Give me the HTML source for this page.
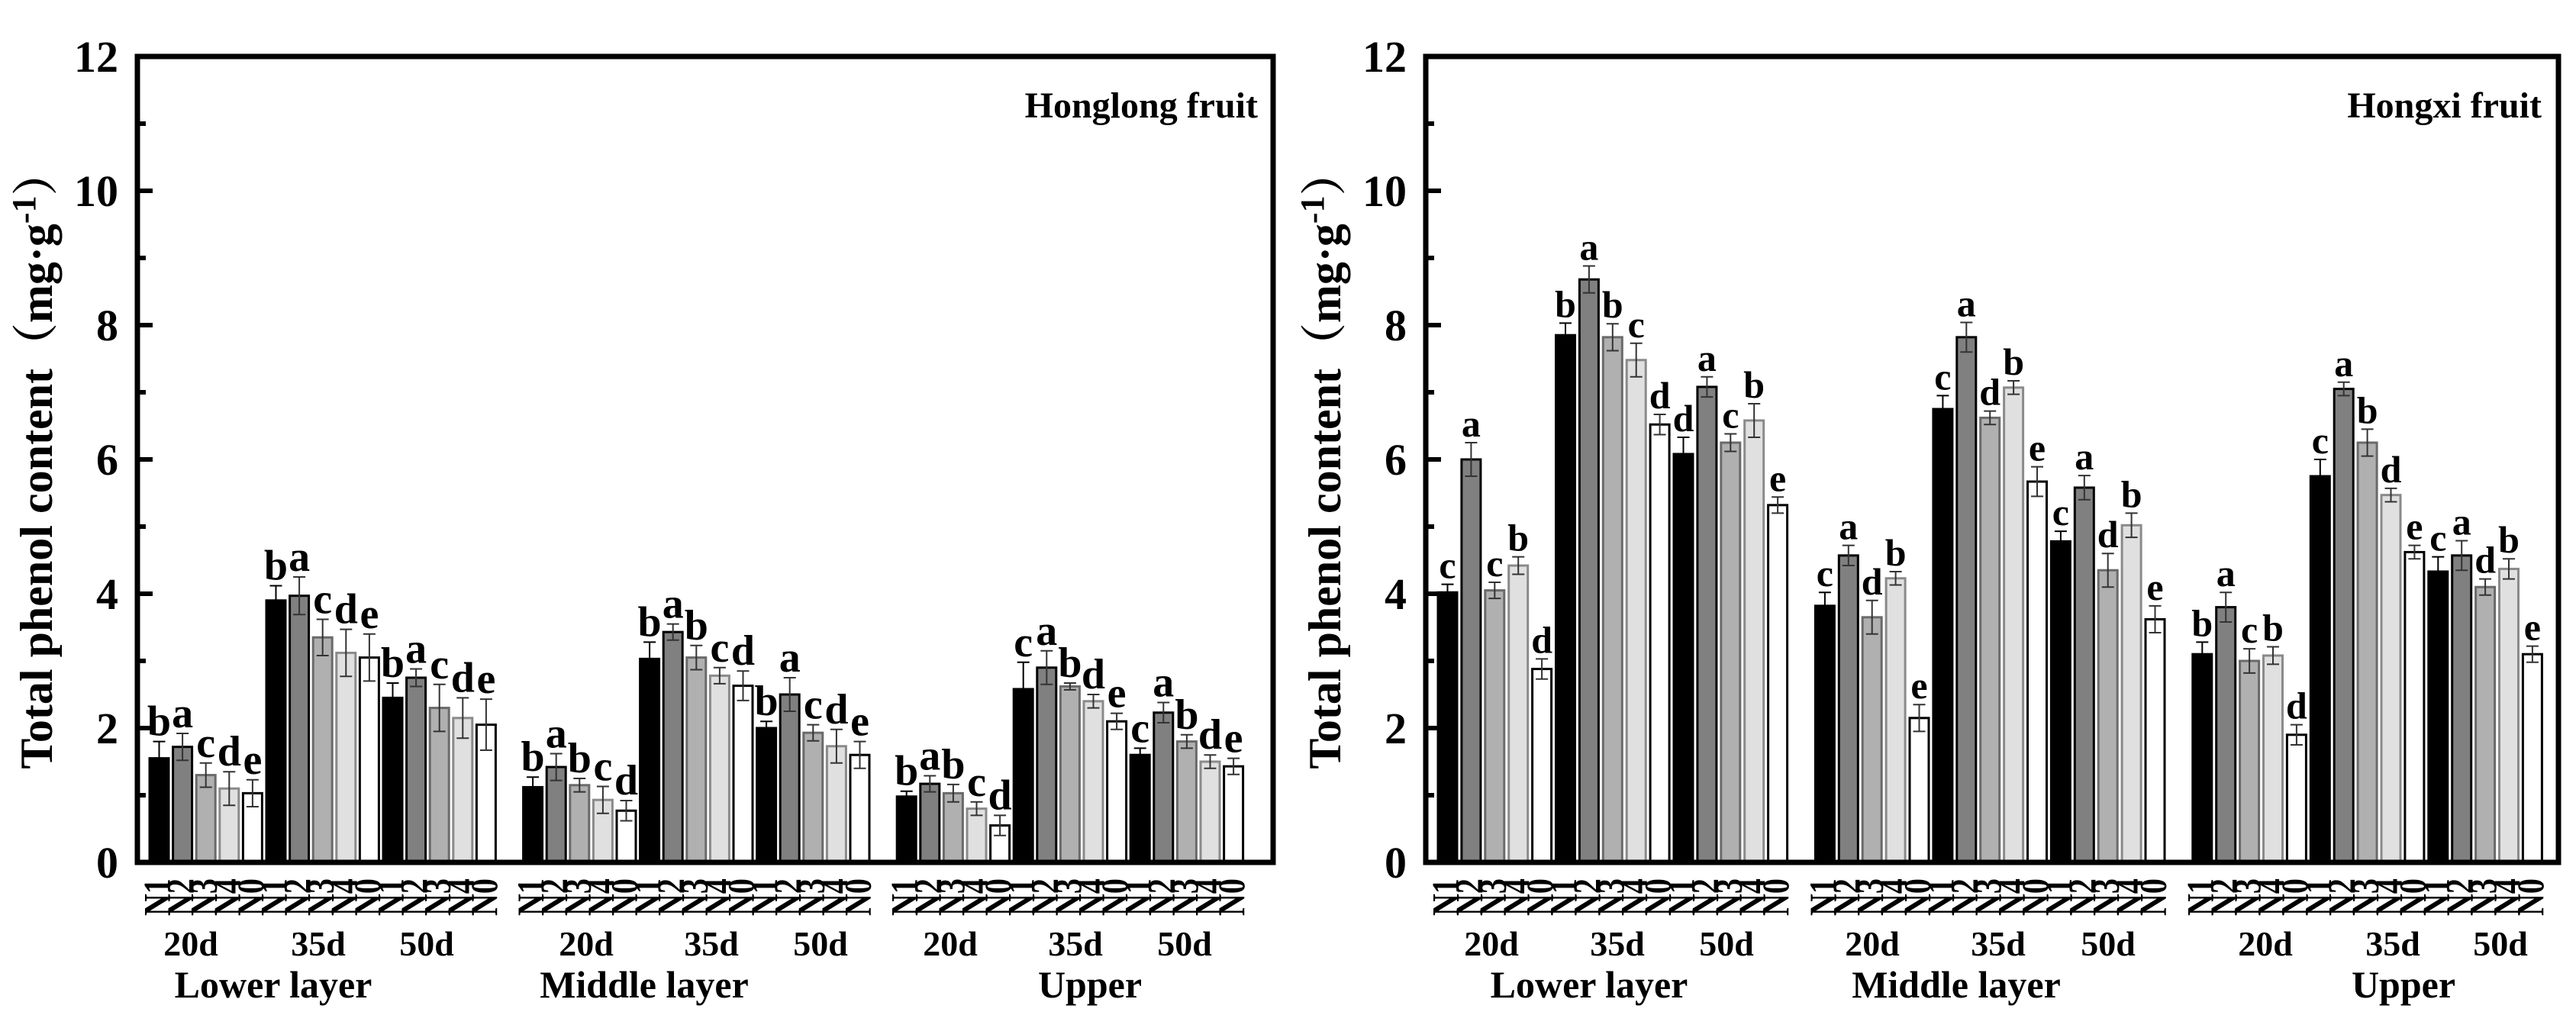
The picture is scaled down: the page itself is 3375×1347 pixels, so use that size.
<!DOCTYPE html>
<html><head><meta charset="utf-8"><style>
html,body{margin:0;padding:0;background:#fff;}
svg, svg text{font-family:"Liberation Serif","Times New Roman","Noto Serif CJK SC",serif !important;font-weight:bold;}
</style></head><body>
<svg id="chart" width="3375" height="1342" viewBox="0 0 3375 1342" xmlns="http://www.w3.org/2000/svg" font-family="Liberation Serif, serif" font-weight="bold"></svg>
<script>
// ---- data ----
const treatments = ["N1","N2","N3","N4","N0"];
const periods = ["20d","35d","50d"];
const layers = ["Lower layer","Middle layer","Upper"];
const yTicks = [0,2,4,6,8,10,12];
const honglongValues = [
  [1.55,1.72,1.30,1.10,1.03, 3.90,3.97,3.35,3.12,3.05, 2.45,2.75,2.30,2.15,2.05],
  [1.12,1.42,1.15,0.93,0.77, 3.03,3.43,3.05,2.78,2.63, 2.00,2.50,1.93,1.73,1.60],
  [0.98,1.17,1.03,0.80,0.55, 2.58,2.90,2.62,2.40,2.10, 1.60,2.23,1.80,1.50,1.43]
];
const honglongErrors = [
  [0.25,0.20,0.18,0.25,0.20, 0.22,0.28,0.27,0.35,0.35, 0.22,0.13,0.35,0.30,0.38],
  [0.15,0.20,0.10,0.20,0.15, 0.25,0.12,0.18,0.12,0.22, 0.10,0.25,0.12,0.25,0.20],
  [0.08,0.12,0.13,0.10,0.15, 0.40,0.25,0.05,0.10,0.12, 0.10,0.15,0.10,0.10,0.12]
];
const honglongLetters = [
  ["b","a","c","d","e","b","a","c","d","e","b","a","c","d","e"],
  ["b","a","b","c","d","b","a","b","c","d","b","a","c","d","e"],
  ["b","a","b","c","d","c","a","b","d","e","c","a","b","d","e"]
];
const hongxiValues = [
  [4.02,6.00,4.05,4.42,2.88, 7.85,8.68,7.82,7.48,6.52, 6.08,7.08,6.25,6.58,5.32],
  [3.82,4.57,3.65,4.23,2.15, 6.75,7.82,6.62,7.07,5.67, 4.78,5.58,4.35,5.02,3.62],
  [3.10,3.80,3.00,3.08,1.90, 5.75,7.05,6.25,5.47,4.62, 4.33,4.57,4.10,4.37,3.10]
];
const hongxiErrors = [
  [0.12,0.25,0.12,0.13,0.15, 0.18,0.20,0.20,0.25,0.15, 0.25,0.15,0.13,0.25,0.12],
  [0.20,0.15,0.25,0.10,0.20, 0.20,0.22,0.10,0.10,0.22, 0.15,0.18,0.25,0.18,0.20],
  [0.18,0.22,0.18,0.13,0.15, 0.25,0.10,0.20,0.10,0.10, 0.22,0.22,0.12,0.15,0.12]
];
const hongxiLetters = [
  ["c","a","c","b","d","b","a","b","c","d","d","a","c","b","e"],
  ["c","a","d","b","e","c","a","d","b","e","c","a","d","b","e"],
  ["b","a","c","b","d","c","a","b","d","e","c","a","d","b","e"]
];

const NS="http://www.w3.org/2000/svg";
const svg=document.getElementById('chart');
function mk(tag,attrs,parent){const e=document.createElementNS(NS,tag);for(const k in attrs)e.setAttribute(k,attrs[k]);if(tag==='text'){e.setAttribute('font-family','Liberation Serif, Times New Roman, serif');e.setAttribute('font-weight','bold');}(parent||svg).appendChild(e);return e;}
const fills=["#000","#808080","#b0b0b0","#e0e0e0","#fff"];
const strokes=["#000","#000","#6a6a6a","#8a8a8a","#000"];

function panel(cfg){
  const g=mk('g',{});
  
  
  const y0=1130,yTop=74,ppu=(y0-yTop)/12;
  const yS=v=>y0-v*ppu;
  const xS=i=>cfg.x0+16+i*cfg.pitch;
  const bw=25;
  for(let L=0;L<3;L++){
    for(let k=0;k<15;k++){
      const idx=L*16+k, t=k%5;
      const v=cfg.values[L][k], e=cfg.errors[L][k];
      const x=xS(idx);
      const r=mk('rect',{x:x,y:yS(v),width:bw,height:y0-yS(v),fill:fills[t],stroke:strokes[t],'stroke-width':3},g);
      
      
      const cx=x+bw/2, cw=8;
      const eb=mk('path',{d:`M${cx},${yS(v+e)}V${yS(v-e)}M${cx-cw},${yS(v+e)}H${cx+cw}M${cx-cw},${yS(v-e)}H${cx+cw}`,stroke:t===0?'#000':'#333','stroke-width':2,fill:'none'},g);
      
      
      const lt=mk('text',{x:cx,y:yS(v+e)-8,'text-anchor':'middle','font-size':cfg.letterSize},g);
      lt.textContent=cfg.letters[L][k];
      
      
      const xl=mk('text',{transform:`translate(${cx+14},1200) rotate(-90) scale(1,1.25)`,'font-size':40},g);
      xl.textContent=treatments[t];
      
      
    }
  }
  const fr=mk('rect',{x:cfg.x0,y:yTop,width:cfg.x1-cfg.x0,height:y0-yTop,fill:'none',stroke:'#000','stroke-width':7},g);
  
  
  yTicks.forEach((t,i)=>{
    const y=yS(t);
    const tk=mk('line',{x1:cfg.x0,x2:cfg.x0+20,y1:y,y2:y,stroke:'#000','stroke-width':6},g);
    
    
    if(i<yTicks.length-1){
      const m=mk('line',{x1:cfg.x0,x2:cfg.x0+11,y1:yS(t+1),y2:yS(t+1),stroke:'#000','stroke-width':6},g);
      
      
    }
    const lb=mk('text',{x:cfg.x0-25,y:y+20,'text-anchor':'end','font-size':58},g);
    lb.textContent=t;
    
    
  });
  const yt=mk('text',{transform:`translate(${cfg.x0-112},602) rotate(-90)`,'text-anchor':'middle','font-size':60},g);
  yt.innerHTML='Total phenol content（mg·g<tspan dy="-22" font-size="44">-1</tspan><tspan dy="22">）</tspan>';
  
  
  cfg.dayX.forEach((dx,i)=>{
    const d=mk('text',{x:dx,y:1252,'text-anchor':'middle','font-size':46},g);
    d.textContent=periods[i%3];
    
    
  });
  cfg.layerX.forEach((lx,i)=>{
    const d=mk('text',{x:lx,y:1307,'text-anchor':'middle','font-size':50},g);
    d.textContent=layers[i];
    
    
  });
  const ti=mk('text',{x:cfg.titleX,y:154,'text-anchor':'end','font-size':48},g);
  ti.textContent=cfg.title;
  
  
}
panel({name:'honglong-panel',short:'honglong',x0:180,x1:1668,pitch:30.6,values:honglongValues,errors:honglongErrors,letters:honglongLetters,letterSize:56,
  dayX:[250,417,559,768,932,1075,1245,1409,1552],layerX:[358,844,1428],titleX:1648,title:'Honglong fruit'});
panel({name:'hongxi-panel',short:'hongxi',x0:1868,x1:3352,pitch:30.9,values:hongxiValues,errors:hongxiErrors,letters:hongxiLetters,letterSize:50,
  dayX:[1954,2119,2262,2453,2618,2762,2968,3135,3276],layerX:[2082,2563,3149],titleX:3330,title:'Hongxi fruit'});
</script>
</body></html>
